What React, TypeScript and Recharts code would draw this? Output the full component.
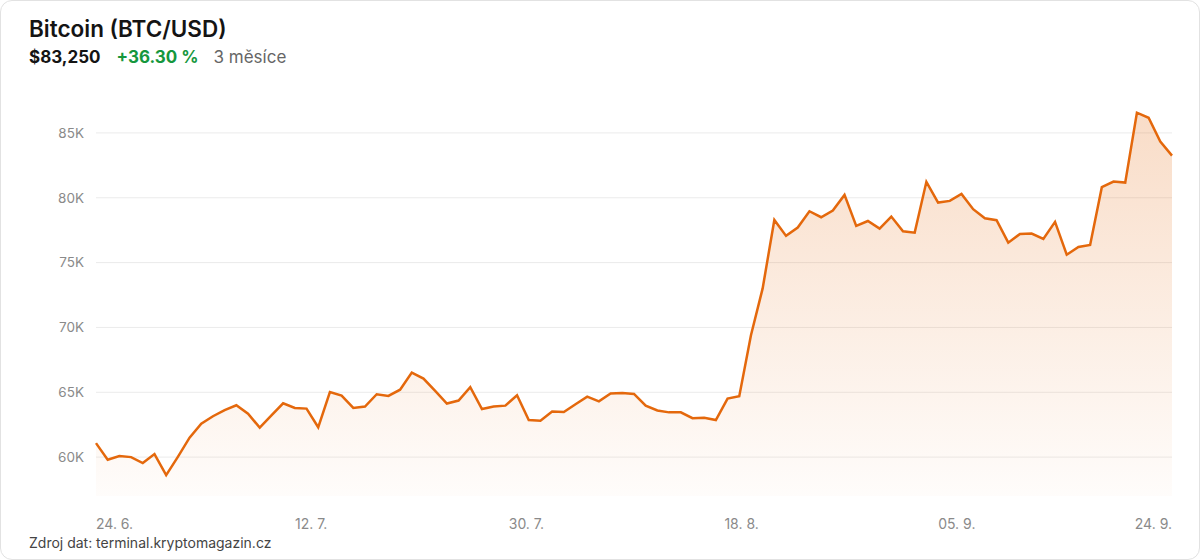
import { AreaChart, Area, XAxis, YAxis, CartesianGrid } from "recharts";

// denní závěrečné ceny BTC/USD, 24. 6. – 24. 9.
const prices = [
  61078, 59800, 60080, 60000, 59540, 60230, 58610, 60020, 61500, 62580,
  63150, 63630, 64000, 63350, 62270, 63220, 64150, 63790, 63740, 62300,
  65020, 64740, 63790, 63900, 64850, 64720, 65200, 66520, 66060, 65100,
  64130, 64360, 65390, 63710, 63900, 63970, 64770, 62860, 62810, 63520,
  63480, 64070, 64660, 64300, 64900, 64950, 64870, 63970, 63600, 63450,
  63450, 63000, 63040, 62860, 64510, 64700, 69400, 73010, 78290, 77060,
  77700, 78960, 78500, 79010, 80220, 77830, 78210, 77620, 78550, 77420,
  77310, 81230, 79630, 79760, 80300, 79120, 78420, 78270, 76540, 77210,
  77240, 76820, 78140, 75610, 76200, 76360, 80820, 81250, 81170, 86560,
  86170, 84340, 83250,
];

const tickPositions = [0, 18.4, 36.8, 55.2, 73.6, 92];
const tickLabels = ["24. 6.", "12. 7.", "30. 7.", "18. 8.", "05. 9.", "24. 9."];
const yTicks = [60000, 65000, 70000, 75000, 80000, 85000];

const data = prices.map((price, i) => ({ i, price }));

const font = "Inter, 'Noto Sans', sans-serif";
const orange = "#E4680C";

function DateTick(props: any) {
  const { x, y, payload, index } = props;
  const last = tickPositions.length - 1;
  const anchor = index === 0 ? "start" : index === last ? "end" : "middle";
  return (
    <text x={x} y={y} dy="0.71em" textAnchor={anchor} fill="#8a8a8a" fontSize={14} fontFamily={font}>
      {tickLabels[tickPositions.indexOf(payload.value)]}
    </text>
  );
}

export default function App() {
  return (
    <div
      style={{
        position: "absolute",
        left: 0,
        top: 0,
        width: 1200,
        height: 560,
        boxSizing: "border-box",
        border: "1px solid #e2e2e2",
        borderRadius: 12,
        background: "#fff",
        fontFamily: font,
        overflow: "hidden",
      }}
    >
      <style>{"body{margin:0}"}</style>
      <div style={{ position: "absolute", left: 28, top: 14, fontSize: 22.5, fontWeight: 600, color: "#141414", whiteSpace: "nowrap" }}>
        Bitcoin (BTC/USD)
      </div>
      <div style={{ position: "absolute", left: 28, top: 46, fontSize: 17, whiteSpace: "nowrap" }}>
        <span style={{ fontWeight: 700, color: "#141414" }}>$83,250</span>
        <span style={{ fontWeight: 700, color: "#15973d", marginLeft: 16 }}>+36.30 %</span>
        <span style={{ color: "#666", marginLeft: 15 }}>3 měsíce</span>
      </div>
      <div style={{ position: "absolute", left: 28, top: 533, fontSize: 14, color: "#444", whiteSpace: "nowrap" }}>
        Zdroj dat: terminal.kryptomagazin.cz
      </div>
      <div style={{ position: "absolute", left: -1, top: -1 }}>
        <AreaChart width={1200} height={560} data={data} margin={{ top: 107, right: 28, bottom: 34, left: 0 }}>
          <defs>
            <linearGradient id="btcFill" x1="0" y1="0" x2="0" y2="1">
              <stop offset="0%" stopColor={orange} stopOpacity={0.38} />
              <stop offset="100%" stopColor={orange} stopOpacity={0.03} />
            </linearGradient>
          </defs>
          <CartesianGrid vertical={false} stroke="#ebebeb" horizontalValues={yTicks} />
          <XAxis
            dataKey="i"
            type="number"
            domain={[0, 92]}
            ticks={tickPositions}
            tick={<DateTick />}
            axisLine={false}
            tickLine={false}
            tickSize={0}
            tickMargin={23}
            interval={0}
            height={30}
          />
          <YAxis
            domain={[57000, 87000]}
            ticks={yTicks}
            tickFormatter={(v: number) => `${v / 1000}K`}
            tick={{ fill: "#8a8a8a", fontSize: 13.5, fontFamily: font }}
            axisLine={false}
            tickLine={false}
            tickSize={0}
            tickMargin={12}
            width={96}
          />
          <Area
            type="linear"
            dataKey="price"
            stroke={orange}
            strokeWidth={2.5}
            fill="url(#btcFill)"
            baseValue="dataMin"
            isAnimationActive={false}
            dot={false}
            activeDot={false}
          />
        </AreaChart>
      </div>
    </div>
  );
}
